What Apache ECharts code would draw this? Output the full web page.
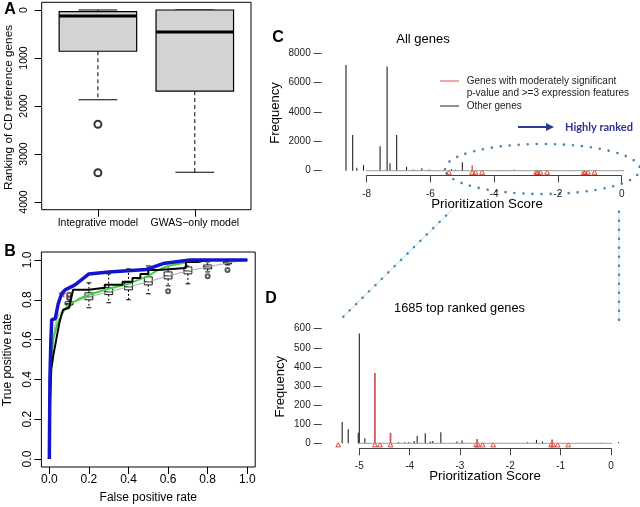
<!DOCTYPE html>
<html><head><meta charset="utf-8">
<script src="https://cdn.jsdelivr.net/npm/echarts@6/dist/echarts.min.js"></script>
<style>html,body{margin:0;padding:0;background:#fff}#c{width:640px;height:507px}</style>
</head><body><div id="c"></div>
<script>
// ---------- Panel A: ranking boxplots ----------
const modelNames = ['Integrative model', 'GWAS\u2212only model'];
// [lower whisker, Q1, median, Q3, upper whisker]
const boxIntegrative = [0, 35, 125, 860, 1870];
const boxGwas = [0, 0, 460, 1690, 3380];
const outliersIntegrative = [2380, 3390];
const rankTicks = [0, 1000, 2000, 3000, 4000];

// ---------- Panel B: ROC curves ----------
const rateTicks = [0, 0.2, 0.4, 0.6, 0.8, 1.0];
const blueFpr = [0, 0.003, 0.008, 0.012, 0.03, 0.045, 0.062, 0.08, 0.13, 0.2, 0.3, 0.49, 0.575, 0.71, 1];
const blueTpr = [0, 0.4, 0.6, 0.7, 0.705, 0.78, 0.83, 0.85, 0.875, 0.93, 0.94, 0.952, 0.982, 1, 1];
const blackFpr = [0, 0.004, 0.01, 0.02, 0.035, 0.05, 0.06, 0.07, 0.1, 0.11, 0.12, 0.2, 0.2, 0.28, 0.28, 0.37, 0.37, 0.42, 0.42, 0.46, 0.46, 0.5, 0.5, 0.55, 0.55, 0.69, 0.69, 0.75, 0.8, 1];
const blackTpr = [0, 0.3, 0.45, 0.52, 0.6, 0.68, 0.72, 0.75, 0.76, 0.77, 0.85, 0.85, 0.86, 0.86, 0.875, 0.875, 0.89, 0.89, 0.91, 0.91, 0.93, 0.93, 0.95, 0.95, 0.96, 0.96, 0.99, 0.99, 1, 1];
const greenFpr = [0, 0.005, 0.01, 0.02, 0.04, 0.07, 0.1, 0.15, 0.2, 0.3, 0.4, 0.5, 0.55, 0.6, 0.7, 0.8, 1];
const greenTpr = [0, 0.4, 0.5, 0.6, 0.68, 0.74, 0.775, 0.805, 0.825, 0.855, 0.88, 0.92, 0.95, 0.97, 0.99, 1, 1];
const grayFpr = [0, 0.01, 0.03, 0.05, 0.1, 0.2, 0.3, 0.4, 0.5, 0.6, 0.7, 0.8, 0.9, 1];
const grayTpr = [0, 0.55, 0.68, 0.73, 0.78, 0.815, 0.84, 0.865, 0.89, 0.92, 0.945, 0.965, 0.985, 1];
const boxFpr = [0.1, 0.2, 0.3, 0.4, 0.5, 0.6, 0.7, 0.8, 0.9];
const boxLow = [0.77, 0.76, 0.785, 0.80, 0.83, 0.87, 0.88, 0.94, 0.975];
const boxQ1 = [0.775, 0.80, 0.826, 0.85, 0.875, 0.905, 0.93, 0.955, 0.98];
const boxMed = [0.78, 0.815, 0.84, 0.865, 0.89, 0.92, 0.945, 0.965, 0.985];
const boxQ3 = [0.79, 0.835, 0.861, 0.885, 0.915, 0.94, 0.965, 0.975, 0.99];
const boxHigh = [0.80, 0.885, 0.93, 0.955, 0.97, 0.985, 1.0, 0.99, 1.0];
const outFpr = [0.1, 0.1, 0.6, 0.8, 0.9];
const outTpr = [0.81, 0.825, 0.843, 0.918, 0.949];
const starFpr = [0.065];
const starTpr = [0.83];

// ---------- Panels C & D: score histograms ----------
const scoreOtherLow = [-8.65, -8.44, -8.31, -8.1, -7.58, -7.36, -7.27, -7.06, -6.75, -6.54, -6.27, -6.04, -5.8, -5.6];
const freqOtherLow = [7200, 2430, 200, 380, 1660, 7100, 500, 2430, 270, 90, 160, 90, 50, 50];
const scoreOtherTop = [-5.34, -5.22, -5.02, -5.0, -4.89, -4.22, -4.1, -4.02, -3.91, -3.85, -3.69, -3.59, -3.54, -3.38, -3.06, -2.96, -1.66, -1.48, -1.36, -0.18, 0.15];
const freqOtherTop = [112, 73, 55, 575, 26, 5, 5, 5, 12, 38, 52, 10, 12, 58, 10, 15, 5, 18, 10, 3, 5];
const scoreRed = [-4.69, -4.38, -2.66, -1.17];
const freqRed = [368, 55, 22, 20];
const scoreRedMarks = [-5.42, -4.69, -4.59, -4.38, -2.68, -2.64, -2.55, -2.34, -1.19, -1.15, -1.06, -0.85];
const xlimC = [-8.68, 0.58];
const xlimD = [-5.5, 0.44];
const freqTicksC = [0, 2000, 4000, 6000, 8000];
const scoreTicksC = [-8, -6, -4, -2, 0];

// ---------- build ----------
const FONT = '"Liberation Sans", Arial, Helvetica, sans-serif';
const zip = (a, b) => a.map((v, i) => [v, b[i]]);
const plain = v => String(v);

function boxRenderer(halfW, capW, fill, lwBox, lwMed, dash) {
  return function (params, api) {
    const x = api.value(0), lo = api.value(1), q1 = api.value(2), med = api.value(3), q3 = api.value(4), hi = api.value(5);
    const a = api.coord([x - halfW, q1]), b = api.coord([x + halfW, q3]);
    const m1 = api.coord([x - halfW, med]), m2 = api.coord([x + halfW, med]);
    const cTop = api.coord([x, q3]), wTop = api.coord([x, hi]);
    const cBot = api.coord([x, q1]), wBot = api.coord([x, lo]);
    const k1 = api.coord([x - capW, hi]), k2 = api.coord([x + capW, hi]);
    const k3 = api.coord([x - capW, lo]), k4 = api.coord([x + capW, lo]);
    const ln = (p, q, st) => ({ type: 'line', shape: { x1: p[0], y1: p[1], x2: q[0], y2: q[1] }, style: st });
    const stroke = '#000';
    return {
      type: 'group', children: [
        ln(cTop, wTop, { stroke, lineWidth: 1, lineDash: dash }),
        ln(cBot, wBot, { stroke, lineWidth: 1, lineDash: dash }),
        ln(k1, k2, { stroke, lineWidth: 1 }),
        ln(k3, k4, { stroke, lineWidth: 1 }),
        { type: 'rect', shape: { x: Math.min(a[0], b[0]), y: Math.min(a[1], b[1]), width: Math.abs(b[0] - a[0]), height: Math.abs(b[1] - a[1]) },
          style: { fill, stroke, lineWidth: lwBox } },
        ln(m1, m2, { stroke, lineWidth: lwMed })
      ]
    };
  };
}
function spikeRenderer(color, width) {
  return function (params, api) {
    const p0 = api.coord([api.value(0), 0]);
    const p1 = api.coord([api.value(0), api.value(1)]);
    return { type: 'line', shape: { x1: p0[0], y1: p0[1], x2: p1[0], y2: p1[1] }, style: { stroke: color, lineWidth: width } };
  };
}
// open triangle (R pch = 2) sitting just under the zero line
function caretRenderer(params, api) {
  const p = api.coord([api.value(0), 0]);
  return { type: 'polygon', shape: { points: [[p[0] - 2.4, p[1] + 3.6], [p[0], p[1] - 0.6], [p[0] + 2.4, p[1] + 3.6]] },
    style: { fill: 'none', stroke: '#d9342b', lineWidth: 0.9 } };
}

const lab = (size, extra) => Object.assign({ fontFamily: FONT, fontSize: size, color: '#000' }, extra || {});

const option = {
  animation: false,
  textStyle: { fontFamily: FONT },
  grid: [
    { left: 41.7, top: 2.3, width: 209.3, height: 207.4, show: true, borderColor: '#000', borderWidth: 1, outerBoundsMode: 'none' },
    { left: 41.4, top: 252, width: 213.8, height: 215, show: true, borderColor: '#000', borderWidth: 1, outerBoundsMode: 'none' },
    { left: 366.7, top: 53.3, width: 255, height: 117.4, show: false, outerBoundsMode: 'none' },
    { left: 359.3, top: 328.7, width: 251.7, height: 114.6, show: false, outerBoundsMode: 'none' }
  ],
  xAxis: [
    { gridIndex: 0, type: 'value', min: 0.42, max: 2.58, axisLine: { show: false, onZero: false }, splitLine: { show: false },
      axisTick: { customValues: [1, 2], length: 7, lineStyle: { color: '#000' } },
      axisLabel: lab(10.5, { customValues: [1, 2], margin: 8, formatter: v => modelNames[Math.round(v) - 1] }) },
    { gridIndex: 1, type: 'value', min: -0.04, max: 1.04, axisLine: { show: false, onZero: false }, splitLine: { show: false },
      axisTick: { customValues: rateTicks, length: 7, lineStyle: { color: '#000' } },
      axisLabel: lab(12, { customValues: rateTicks, margin: 7, formatter: v => v.toFixed(1) }) },
    { gridIndex: 2, type: 'value', min: scoreTicksC[0], max: scoreTicksC[scoreTicksC.length - 1], interval: 2, offset: 4.7,
      axisLine: { show: true, onZero: false, lineStyle: { color: '#444', width: 1 } }, splitLine: { show: false },
      axisTick: { length: 7, lineStyle: { color: '#444' } },
      axisLabel: lab(10, { margin: 13.5, color: '#222', formatter: plain }) },
    { gridIndex: 3, type: 'value', min: -5, max: 0, interval: 1, offset: 5,
      axisLine: { show: true, onZero: false, lineStyle: { color: '#444', width: 1 } }, splitLine: { show: false },
      axisTick: { length: 7, lineStyle: { color: '#444' } },
      axisLabel: lab(10, { margin: 12.5, color: '#222', formatter: plain }) }
  ],
  yAxis: [
    { gridIndex: 0, type: 'value', inverse: true, min: -160, max: 4160, axisLine: { show: false, onZero: false }, splitLine: { show: false },
      axisTick: { customValues: rankTicks, length: 7, lineStyle: { color: '#000' } },
      axisLabel: lab(10.5, { customValues: rankTicks, rotate: 90, margin: 12.5, formatter: plain }) },
    { gridIndex: 1, type: 'value', min: -0.04, max: 1.04, axisLine: { show: false, onZero: false }, splitLine: { show: false },
      axisTick: { customValues: rateTicks, length: 7, lineStyle: { color: '#000' } },
      axisLabel: lab(12, { customValues: rateTicks, rotate: 90, margin: 8, formatter: v => v.toFixed(1) }) },
    { gridIndex: 2, type: 'value', position: 'left', min: freqTicksC[0], max: freqTicksC[freqTicksC.length - 1], interval: 2000, offset: 45,
      axisLine: { show: false, onZero: false }, splitLine: { show: false },
      axisTick: { show: true, length: 8, lineStyle: { color: '#444' } },
      axisLabel: lab(10, { margin: 11, color: '#222', formatter: plain }) },
    { gridIndex: 3, type: 'value', position: 'left', min: 0, max: 600, interval: 100, offset: 37.6,
      axisLine: { show: false, onZero: false }, splitLine: { show: false },
      axisTick: { show: true, length: 8, lineStyle: { color: '#444' } },
      axisLabel: lab(10, { margin: 11, color: '#222', formatter: plain }) }
  ],
  series: [
    // A
    { type: 'custom', xAxisIndex: 0, yAxisIndex: 0, clip: false,
      renderItem: boxRenderer(0.4, 0.2, '#d3d3d3', 1.2, 3, [4, 3]),
      data: [[1].concat(boxIntegrative), [2].concat(boxGwas)] },
    { type: 'scatter', xAxisIndex: 0, yAxisIndex: 0, symbol: 'emptyCircle', symbolSize: 7,
      itemStyle: { color: '#000', borderWidth: 1.3 }, data: outliersIntegrative.map(v => [1, v]) },
    // B
    { type: 'line', xAxisIndex: 1, yAxisIndex: 1, showSymbol: false, symbol: 'none', lineStyle: { color: '#aaaaaa', width: 1 }, data: zip(grayFpr, grayTpr) },
    { type: 'custom', xAxisIndex: 1, yAxisIndex: 1, clip: false,
      renderItem: boxRenderer(0.02, 0.012, 'rgba(255,255,255,0)', 0.9, 1, [2, 2]),
      data: boxFpr.map((x, i) => [x, boxLow[i], boxQ1[i], boxMed[i], boxQ3[i], boxHigh[i]]) },
    { type: 'scatter', xAxisIndex: 1, yAxisIndex: 1, symbol: 'emptyCircle', symbolSize: 4,
      itemStyle: { color: '#333', borderWidth: 0.9 }, data: zip(outFpr, outTpr) },
    { type: 'line', xAxisIndex: 1, yAxisIndex: 1, showSymbol: false, symbol: 'none', lineStyle: { color: '#3fd23f', width: 2 }, data: zip(greenFpr, greenTpr) },
    { type: 'line', xAxisIndex: 1, yAxisIndex: 1, showSymbol: false, symbol: 'none', lineStyle: { color: '#000', width: 2 }, data: zip(blackFpr, blackTpr) },
    { type: 'line', xAxisIndex: 1, yAxisIndex: 1, showSymbol: false, symbol: 'none', lineStyle: { color: '#1414c8', width: 3.5 }, data: zip(blueFpr, blueTpr) },
    { type: 'scatter', xAxisIndex: 1, yAxisIndex: 1, symbolSize: 8,
      symbol: 'path://M0,-10 L2.9,-4 L9.5,-3.1 L4.7,1.5 L5.9,8.1 L0,5 L-5.9,8.1 L-4.7,1.5 L-9.5,-3.1 L-2.9,-4 Z',
      itemStyle: { color: '#d0205a' }, data: zip(starFpr, starTpr) },
    // C
    { type: 'line', xAxisIndex: 2, yAxisIndex: 2, clip: false, showSymbol: false, symbol: 'none', lineStyle: { color: '#9a9a9a', width: 1 },
      data: xlimC.map(x => [x, 0]) },
    { type: 'custom', xAxisIndex: 2, yAxisIndex: 2, clip: false, renderItem: spikeRenderer('#222', 1.1),
      data: zip(scoreOtherLow.concat(scoreOtherTop), freqOtherLow.concat(freqOtherTop)) },
    { type: 'custom', xAxisIndex: 2, yAxisIndex: 2, clip: false, renderItem: spikeRenderer('#d05a5a', 1.4),
      data: zip(scoreRed, freqRed) },
    { type: 'custom', xAxisIndex: 2, yAxisIndex: 2, clip: false, renderItem: caretRenderer,
      data: scoreRedMarks.map(x => [x, 0]) },
    // D
    { type: 'line', xAxisIndex: 3, yAxisIndex: 3, clip: false, showSymbol: false, symbol: 'none', lineStyle: { color: '#9a9a9a', width: 1 },
      data: xlimD.map(x => [x, 0]) },
    { type: 'custom', xAxisIndex: 3, yAxisIndex: 3, clip: false, renderItem: spikeRenderer('#222', 1.1),
      data: zip(scoreOtherTop, freqOtherTop) },
    { type: 'custom', xAxisIndex: 3, yAxisIndex: 3, clip: false, renderItem: spikeRenderer('#d05a5a', 1.8),
      data: zip(scoreRed, freqRed) },
    { type: 'custom', xAxisIndex: 3, yAxisIndex: 3, clip: false, renderItem: caretRenderer,
      data: scoreRedMarks.map(x => [x, 0]) }
  ]
};

const T = (text, x, y, font, extra) => Object.assign({ type: 'text', x, y, silent: true,
  style: Object.assign({ text, font, fill: '#000', align: 'center', verticalAlign: 'middle' }, (extra && extra.style) || {}) },
  extra && extra.rotation ? { rotation: extra.rotation } : {});
const dotStyle = { fill: 'none', stroke: '#4f86ad', lineWidth: 2.6, lineDash: [0.01, 9], lineCap: 'round' };

option.graphic = [
  T('A', 10, 10, 'bold 16px ' + FONT),
  T('B', 10, 252, 'bold 16px ' + FONT),
  T('C', 278, 38, 'bold 16px ' + FONT),
  T('D', 271, 299, 'bold 16px ' + FONT),
  T('Ranking of CD reference genes', 8.5, 107.5, '11.8px ' + FONT, { rotation: Math.PI / 2 }),
  T('True positive rate', 8, 360, '12px ' + FONT, { rotation: Math.PI / 2 }),
  T('False positive rate', 148.3, 498, '12px ' + FONT),
  T('All genes', 423, 39, '13px ' + FONT),
  T('Frequency', 275, 113, '13px ' + FONT, { rotation: Math.PI / 2 }),
  T('Prioritization Score', 487, 204, '13.3px ' + FONT),
  T('1685 top ranked genes', 459.5, 308, '12.8px ' + FONT),
  T('Frequency', 280.7, 386.7, '13px ' + FONT, { rotation: Math.PI / 2 }),
  T('Prioritization Score', 485, 476.7, '13.3px ' + FONT),
  // legend
  { type: 'line', silent: true, shape: { x1: 440, y1: 81, x2: 459, y2: 81 }, style: { stroke: '#d9534f', lineWidth: 1 } },
  { type: 'line', silent: true, shape: { x1: 440, y1: 106, x2: 459, y2: 106 }, style: { stroke: '#222', lineWidth: 1 } },
  T('Genes with moderately significant', 466.7, 81, '10px ' + FONT, { style: { align: 'left', fill: '#222' } }),
  T('p-value and >=3 expression features', 466.7, 93.3, '10px ' + FONT, { style: { align: 'left', fill: '#222' } }),
  T('Other genes', 466.7, 106, '10px ' + FONT, { style: { align: 'left', fill: '#222' } }),
  // highly ranked arrow
  { type: 'line', silent: true, shape: { x1: 518, y1: 127, x2: 550, y2: 127 }, style: { stroke: '#2b3990', lineWidth: 2 } },
  { type: 'polygon', silent: true, shape: { points: [[554, 127], [546, 123], [546, 131]] }, style: { fill: '#2b3990' } },
  T('Highly ranked', 565, 127, 'bold 11px Lato, ' + FONT, { style: { align: 'left', fill: '#2e3192' } }),
  // zoom annotation
  { type: 'ellipse', silent: true, shape: { cx: 542.5, cy: 169, rx: 97.5, ry: 25 }, style: dotStyle },
  { type: 'line', silent: true, shape: { x1: 343.3, y1: 316.7, x2: 451.7, y2: 210 }, style: { stroke: '#b5dcef', lineWidth: 1 } },
  { type: 'line', silent: true, shape: { x1: 343.3, y1: 316.7, x2: 451.7, y2: 210 }, style: dotStyle },
  { type: 'line', silent: true, shape: { x1: 619, y1: 211.7, x2: 619, y2: 320 }, style: { stroke: '#b5dcef', lineWidth: 1 } },
  { type: 'line', silent: true, shape: { x1: 619, y1: 211.7, x2: 619, y2: 320 }, style: dotStyle }
];

const chart = echarts.init(document.getElementById('c'), null, { renderer: 'canvas', width: 640, height: 507 });
chart.setOption(option);
</script>
</body></html>
